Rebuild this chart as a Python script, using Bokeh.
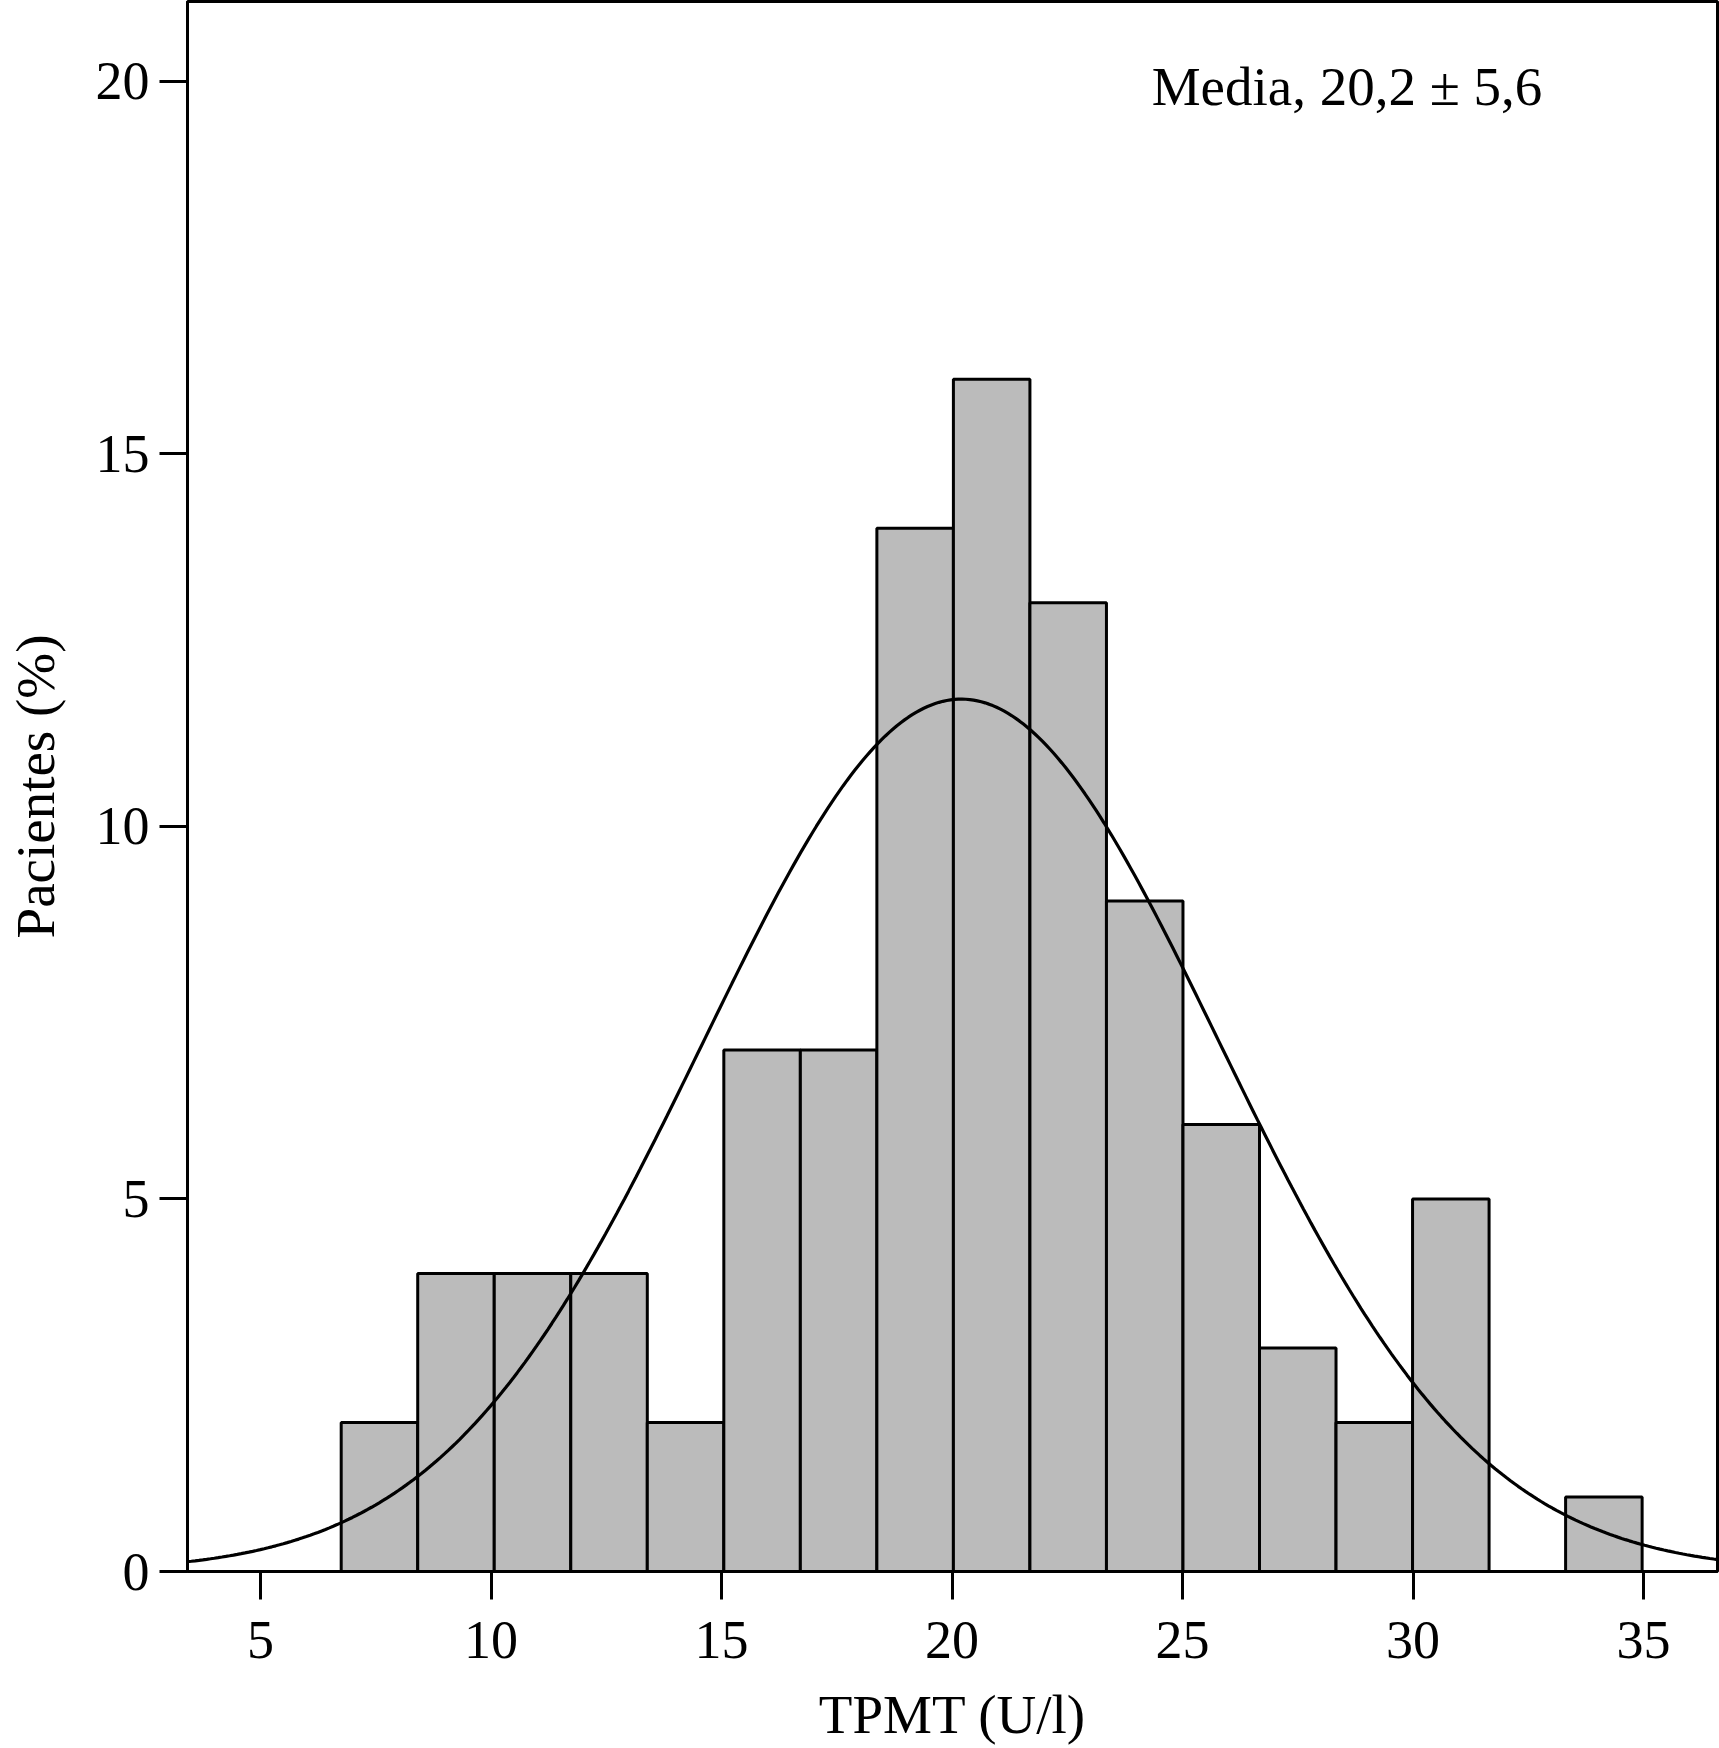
import numpy as np
from bokeh.plotting import figure
from bokeh.models import Range1d, FixedTicker, ColumnDataSource
from bokeh.core.properties import value
from bokeh.embed import file_html
from bokeh.resources import INLINE

# ---- data ----
bin_edges = [6.75, 8.41, 10.07, 11.73, 13.39, 15.05, 16.71, 18.37, 20.03,
             21.69, 23.35, 25.01, 26.67, 28.33, 29.99, 31.65, 33.31, 34.97]
pct_patients = [2, 4, 4, 4, 2, 7, 7, 14, 16, 13, 9, 6, 3, 2, 5, 0, 1]
x_ticks = [5, 10, 15, 20, 25, 30, 35]
y_ticks = [0, 5, 10, 15, 20]
MEAN = 20.2
SD = 5.6
annotation = "Media, 20,2 ± 5,6"
x_label = "TPMT (U/l)"
y_label = "Pacientes (%)"

FONT = "Liberation Serif"
X0, X1 = 3.416, 36.605

p = figure(width=1719, height=1748, output_backend="svg", toolbar_location=None,
           x_range=Range1d(X0, X1), y_range=Range1d(0, 21.07),
           min_border_left=187, min_border_right=2, min_border_top=1,
           min_border_bottom=177)
p.grid.visible = False
p.background_fill_color = "white"
p.border_fill_color = "white"
p.outline_line_color = "black"
p.outline_line_width = 3

# histogram bars (skip empty bins)
lefts = [bin_edges[i] for i in range(len(pct_patients)) if pct_patients[i] > 0]
rights = [bin_edges[i + 1] for i in range(len(pct_patients)) if pct_patients[i] > 0]
tops = [v for v in pct_patients if v > 0]
src = ColumnDataSource(dict(left=lefts, right=rights, top=tops, bottom=[0] * len(tops)))
p.quad(left="left", right="right", top="top", bottom="bottom", source=src,
       fill_color="#bbbbbb", line_color="black", line_width=3)

# fitted normal curve (mean and SD as printed, scaled to the histogram)
n_total = sum(pct_patients)
bw = (bin_edges[-1] - bin_edges[0]) / len(pct_patients)
xs = np.linspace(X0, X1, 400)
ys = n_total * bw * np.exp(-0.5 * ((xs - MEAN) / SD) ** 2) / (SD * np.sqrt(2 * np.pi))
p.line(xs, ys, line_color="black", line_width=3.2)

p.text(x=[24.33], y=[19.93], text=[annotation], text_font=value(FONT),
       text_font_size="55px", text_color="black", text_align="left",
       text_baseline="alphabetic")

for ax in (p.xaxis[0], p.yaxis[0]):
    ax.axis_line_color = "black"
    ax.axis_line_width = 3
    ax.major_tick_line_color = "black"
    ax.major_tick_line_width = 3
    ax.major_tick_out = 28
    ax.major_tick_in = 0
    ax.minor_tick_line_color = None
    ax.major_label_text_font = FONT
    ax.major_label_text_font_size = "54px"
    ax.major_label_text_color = "black"
    ax.axis_label_text_font = FONT
    ax.axis_label_text_font_size = "55px"
    ax.axis_label_text_font_style = "normal"
    ax.axis_label_text_color = "black"

p.xaxis[0].ticker = FixedTicker(ticks=x_ticks)
p.yaxis[0].ticker = FixedTicker(ticks=y_ticks)
p.xaxis[0].axis_label = x_label
p.yaxis[0].axis_label = y_label
p.xaxis[0].major_label_standoff = 22
p.yaxis[0].major_label_standoff = 10
p.xaxis[0].axis_label_standoff = 23
p.yaxis[0].axis_label_standoff = 27

open("out.html", "w").write(file_html(p, INLINE))
